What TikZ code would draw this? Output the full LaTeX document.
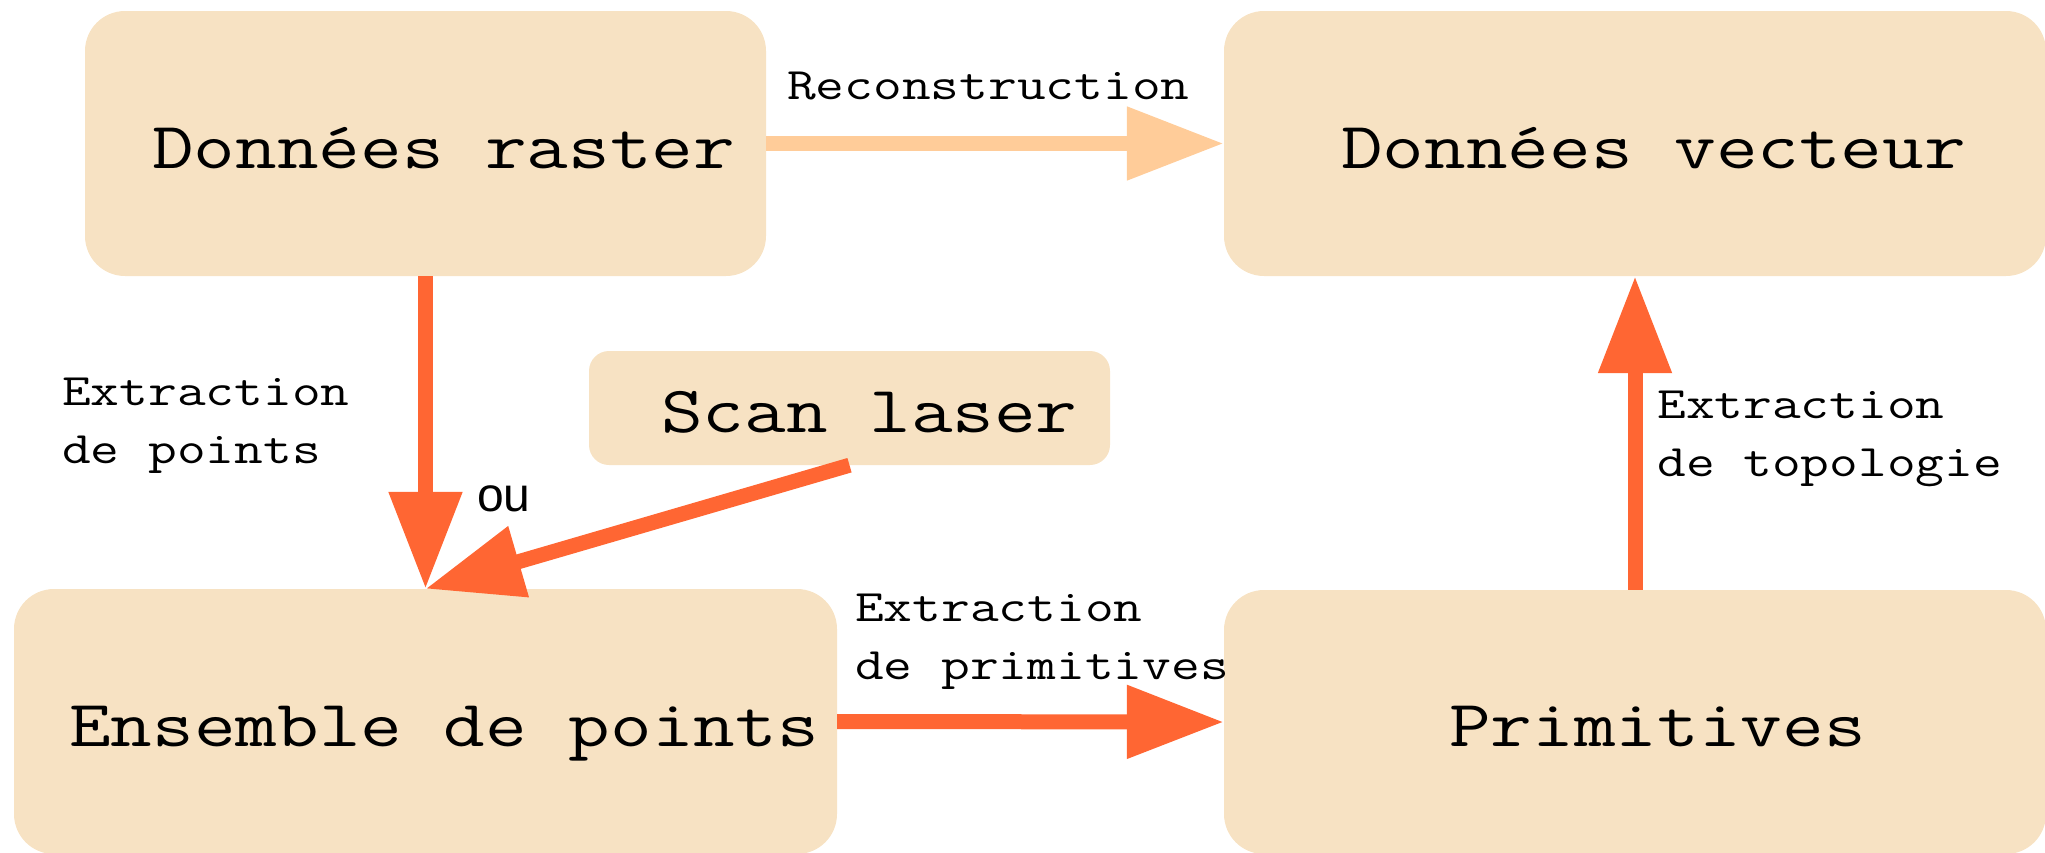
\documentclass[tikz,border=0pt]{standalone}
\usepackage{fontspec}
\newfontfamily\labelsans{Liberation Sans}
\usetikzlibrary{arrows.meta}
\definecolor{boxfill}{HTML}{F7E2C3}
\definecolor{flow}{HTML}{FF6633}
\definecolor{flowlight}{HTML}{FFCC99}
\tikzset{
  box/.style={rectangle, fill=boxfill, draw=none, inner sep=0pt, rounded corners=#1},
  box/.default=40pt,
  bigtext/.style={font=\ttfamily\fontsize{66}{79}\selectfont, xscale=1.225, inner sep=0pt, anchor=base west},
  smalltext/.style={font=\ttfamily\fontsize{45}{58}\selectfont, xscale=1.24, inner sep=0pt, anchor=base west, align=left},
  flowarrow/.style={draw=#1, line width=15pt, line cap=butt, -{Triangle[length=97pt,width=70pt]}},
  flowarrow/.default=flow,
}
\begin{document}
\begin{tikzpicture}[x=1pt, y=-1pt]
\useasboundingbox (0,0) rectangle (2045,852);

% boxes
\node[box, minimum width=681pt, minimum height=265pt] (raster) at (425.5,143.5) {};
\node[box, minimum width=822pt, minimum height=265pt] (vecteur) at (1635,143.5) {};
\node[box=20pt, minimum width=521pt, minimum height=114pt] (scan) at (849.5,408) {};
\node[box, minimum width=823pt, minimum height=265pt] (ensemble) at (425.5,721.5) {};
\node[box, minimum width=822pt, minimum height=264pt] (prim) at (1635,722) {};

% box titles
\node[bigtext] (traster) at (152,168) {Données raster};
\node[bigtext] (tvecteur) at (1341,168) {Données vecteur};
\node[bigtext] (tscan) at (661,432) {Scan laser};
\node[bigtext] (tensemble) at (69,746) {Ensemble de points};
\node[bigtext] (tprim) at (1449,746) {Primitives};

% connectors
\coordinate (hit) at (raster.south |- ensemble.north);
\draw[flowarrow=flowlight] (raster.east) -- (vecteur.west);
\draw[flowarrow] (raster.south) -- (hit);
\draw[flowarrow] (scan.south) -- (hit);
\draw[flowarrow] (ensemble.east) -- (prim.west);
\draw[flowarrow] (prim.north) -- (vecteur.south);

% connector labels (base anchor sits on the last line)
\node[smalltext] (lrec) at (787,99) {Reconstruction};
\node[smalltext] (lpts) at (62,463) {Extraction\\de points};
\node[smalltext] (lprim) at (855,679) {Extraction\\de primitives};
\node[smalltext] (ltopo) at (1657,476) {Extraction\\de topologie};
\node[font=\labelsans\fontsize{48}{58}\selectfont, inner sep=0pt, anchor=base west] (lou) at (477,511) {ou};
\end{tikzpicture}
\end{document}
